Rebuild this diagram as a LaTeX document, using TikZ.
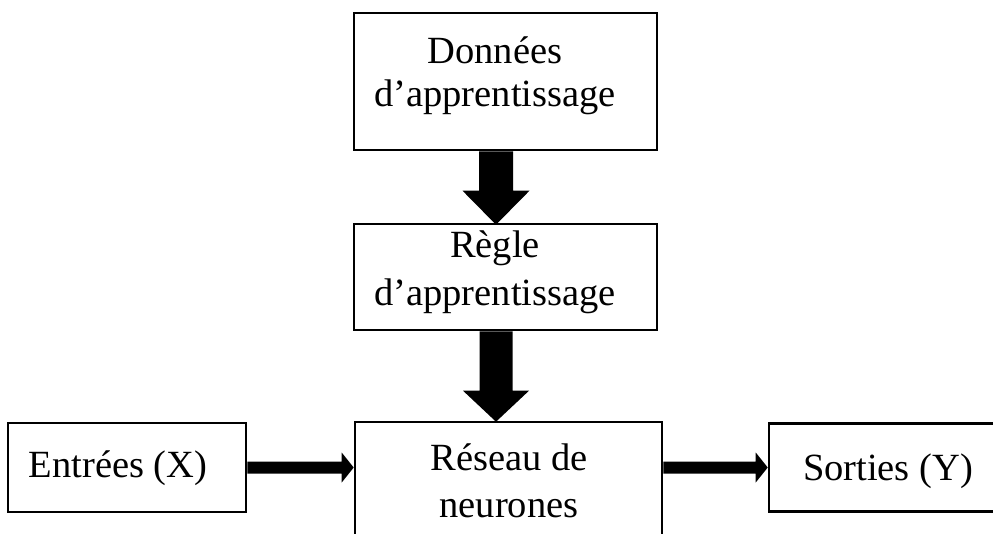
\documentclass[tikz,border=0pt]{standalone}
\usepackage{fontspec}
\setmainfont{Liberation Serif}
\usetikzlibrary{calc}

% thick block arrow pointing down: start, tip, shaft half width, head half width, head length
\newcommand\blockdown[5]{%
  \fill let \p1=(#1), \p2=(#2) in
    (\x1-#3,\y1) -- (\x1+#3,\y1) -- (\x1+#3,\y2+#5) -- (\x1+#4,\y2+#5) --
    (\x1,\y2) -- (\x1-#4,\y2+#5) -- (\x1-#3,\y2+#5) -- cycle;}
% block arrow pointing right
\newcommand\blockright[5]{%
  \fill let \p1=(#1), \p2=(#2) in
    (\x1,\y1+#3) -- (\x2-#5,\y1+#3) -- (\x2-#5,\y1+#4) -- (\x2,\y1) --
    (\x2-#5,\y1-#4) -- (\x2-#5,\y1-#3) -- (\x1,\y1-#3) -- cycle;}

\begin{document}
\begin{tikzpicture}[x=1pt,y=-1pt,
  box/.style={draw=black,line width=2.6pt,rectangle,inner sep=0pt},
  txt/.style={anchor=base,inner sep=0pt,font=\fontsize{38.5}{44}\selectfont}]
\useasboundingbox (0,0) rectangle (993,533);
\fill[white] (0,0) rectangle (993,533);
\begin{scope}
\clip (0,0) rectangle (993,533);

% boxes
\node[box,minimum width=303pt,minimum height=137pt] (data) at (505.5,81.5) {};
\node[box,minimum width=303pt,minimum height=106pt] (rule) at (505.5,277) {};
\node[box,minimum width=307pt,minimum height=140pt] (net) at (508.5,492) {};
\node[box,minimum width=238pt,minimum height=89pt] (in) at (127,467.5) {};
\node[box,minimum width=241pt,minimum height=88pt] (out) at (889.5,467.5) {};

% labels
\node[txt] (data1) at (495,63) {Données};
\node[txt] (data2) at (495,106) {d’apprentissage};
\node[txt] (rule1) at (495,257) {Règle};
\node[txt] (rule2) at (495,305) {d’apprentissage};
\node[txt] (net1) at (509,470) {Réseau de};
\node[txt] (net2) at (509,517) {neurones};
\node[txt] (in1) at (118,477) {Entrées (X)};
\node[txt] (out1) at (888,480) {Sorties (Y)};

% connectors
\coordinate (ax) at (496,0);
\blockdown{data.south -| ax}{$(rule.north -| ax)+(0,2)$}{17pt}{33.5pt}{34pt}
\blockdown{rule.south -| ax}{$(net.north -| ax)+(0,1)$}{16.5pt}{33pt}{31pt}
\blockright{in.east}{net.west |- in.east}{6pt}{15pt}{12pt}
\blockright{net.east |- out.west}{out.west}{6pt}{15pt}{12pt}
\end{scope}
\end{tikzpicture}
\end{document}
